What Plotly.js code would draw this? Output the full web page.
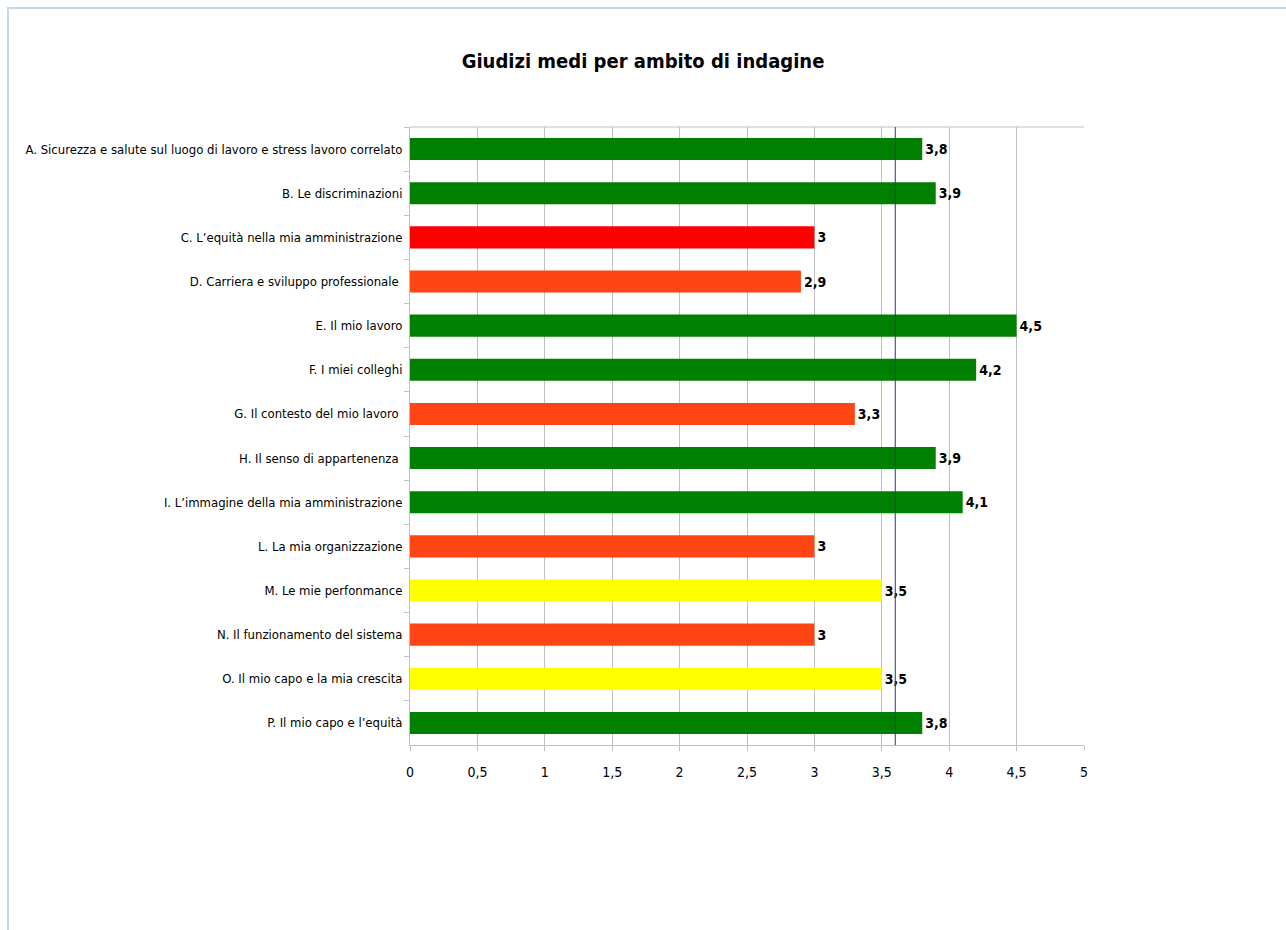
<!DOCTYPE html>
<html>
<head>
<meta charset="utf-8">
<script src="https://cdn.plot.ly/plotly-3.0.1.min.js"></script>
<style>
  html, body { margin: 0; padding: 0; background: #ffffff; overflow: hidden; }
  #chart { width: 1286px; height: 930px; }
  #frame { position: absolute; left: 7px; top: 7px; width: 1400px; height: 1000px;
           border-top: 2px solid #c8d8ec; border-left: 2px solid #c8d8ec; pointer-events: none; }
</style>
</head>
<body>
<div id="chart"></div>
<div id="frame"></div>
<script>
const categories = [
  "A. Sicurezza e salute sul luogo di lavoro e stress lavoro correlato",
  "B. Le discriminazioni",
  "C. L’equità nella mia amministrazione",
  "D. Carriera e sviluppo professionale ",
  "E. Il mio lavoro",
  "F. I miei colleghi",
  "G. Il contesto del mio lavoro ",
  "H. Il senso di appartenenza ",
  "I. L’immagine della mia amministrazione",
  "L. La mia organizzazione",
  "M. Le mie perfonmance",
  "N. Il funzionamento del sistema",
  "O. Il mio capo e la mia crescita",
  "P. Il mio capo e l’equità"
];
const values = [3.8, 3.9, 3.0, 2.9, 4.5, 4.2, 3.3, 3.9, 4.1, 3.0, 3.5, 3.0, 3.5, 3.8];
const barColors = ["#008000", "#008000", "#FF0000", "#FF4513", "#008000", "#008000", "#FF4513",
                   "#008000", "#008000", "#FF4513", "#FFFF00", "#FF4513", "#FFFF00", "#008000"];
const referenceValue = 3.6;
const xTickValues = [0, 0.5, 1, 1.5, 2, 2.5, 3, 3.5, 4, 4.5, 5];
const titleText = "Giudizi medi per ambito di indagine";

const labels = values.map(v => String(v).replace(".", ","));
const narrow = "'DejaVu Sans Condensed', 'Liberation Sans Narrow', sans-serif";

const trace = {
  type: "bar",
  orientation: "h",
  x: values,
  y: categories,
  marker: { color: barColors, line: { width: 0 } },
  text: labels,
  textposition: "outside",
  cliponaxis: false,
  textfont: { family: narrow, size: 14, color: "#000000", weight: "bold" },
  hoverinfo: "x+y"
};

const layout = {
  width: 1286,
  height: 930,
  paper_bgcolor: "#ffffff",
  plot_bgcolor: "#ffffff",
  separators: ",.",
  margin: { l: 410, r: 202, t: 127, b: 185, pad: 0 },
  bargap: 0.5,
  showlegend: false,
  title: {
    text: "<b>" + titleText + "</b>",
    x: 0.5, xref: "container", xanchor: "center",
    y: 1 - 61 / 930, yref: "container", yanchor: "middle",
    font: { family: "'DejaVu Sans Condensed', 'DejaVu Sans', sans-serif", size: 20, color: "#000000" }
  },
  xaxis: {
    range: [0, 5],
    tickvals: xTickValues,
    showgrid: true,
    gridcolor: "#c0c0c0",
    gridwidth: 1,
    zeroline: false,
    showline: true,
    linecolor: "#c0c0c0",
    linewidth: 1,
    mirror: false,
    ticks: "outside",
    ticklen: 5,
    tickcolor: "#c0c0c0",
    ticklabelstandoff: 9,
    tickfont: { family: narrow, size: 14, color: "#000000" },
    fixedrange: true
  },
  yaxis: {
    type: "category",
    autorange: "reversed",
    showgrid: false,
    zeroline: false,
    showline: true,
    linecolor: "#c0c0c0",
    linewidth: 1,
    ticks: "outside",
    tickson: "boundaries",
    ticklen: 5,
    tickcolor: "#c0c0c0",
    ticklabelstandoff: 4,
    tickfont: { family: narrow, size: 13, color: "#000000" },
    fixedrange: true
  },
  shapes: [
    { type: "line", xref: "paper", yref: "paper", x0: 0, x1: 1, y0: 1, y1: 1,
      line: { color: "#c0c0c0", width: 1 } },
    { type: "line", xref: "x", yref: "paper", x0: referenceValue, x1: referenceValue, y0: 0, y1: 1,
      line: { color: "#1f3f6e", width: 1 } }
  ]
};

Plotly.newPlot("chart", [trace], layout, { displayModeBar: false, staticPlot: true });
</script>
</body>
</html>
